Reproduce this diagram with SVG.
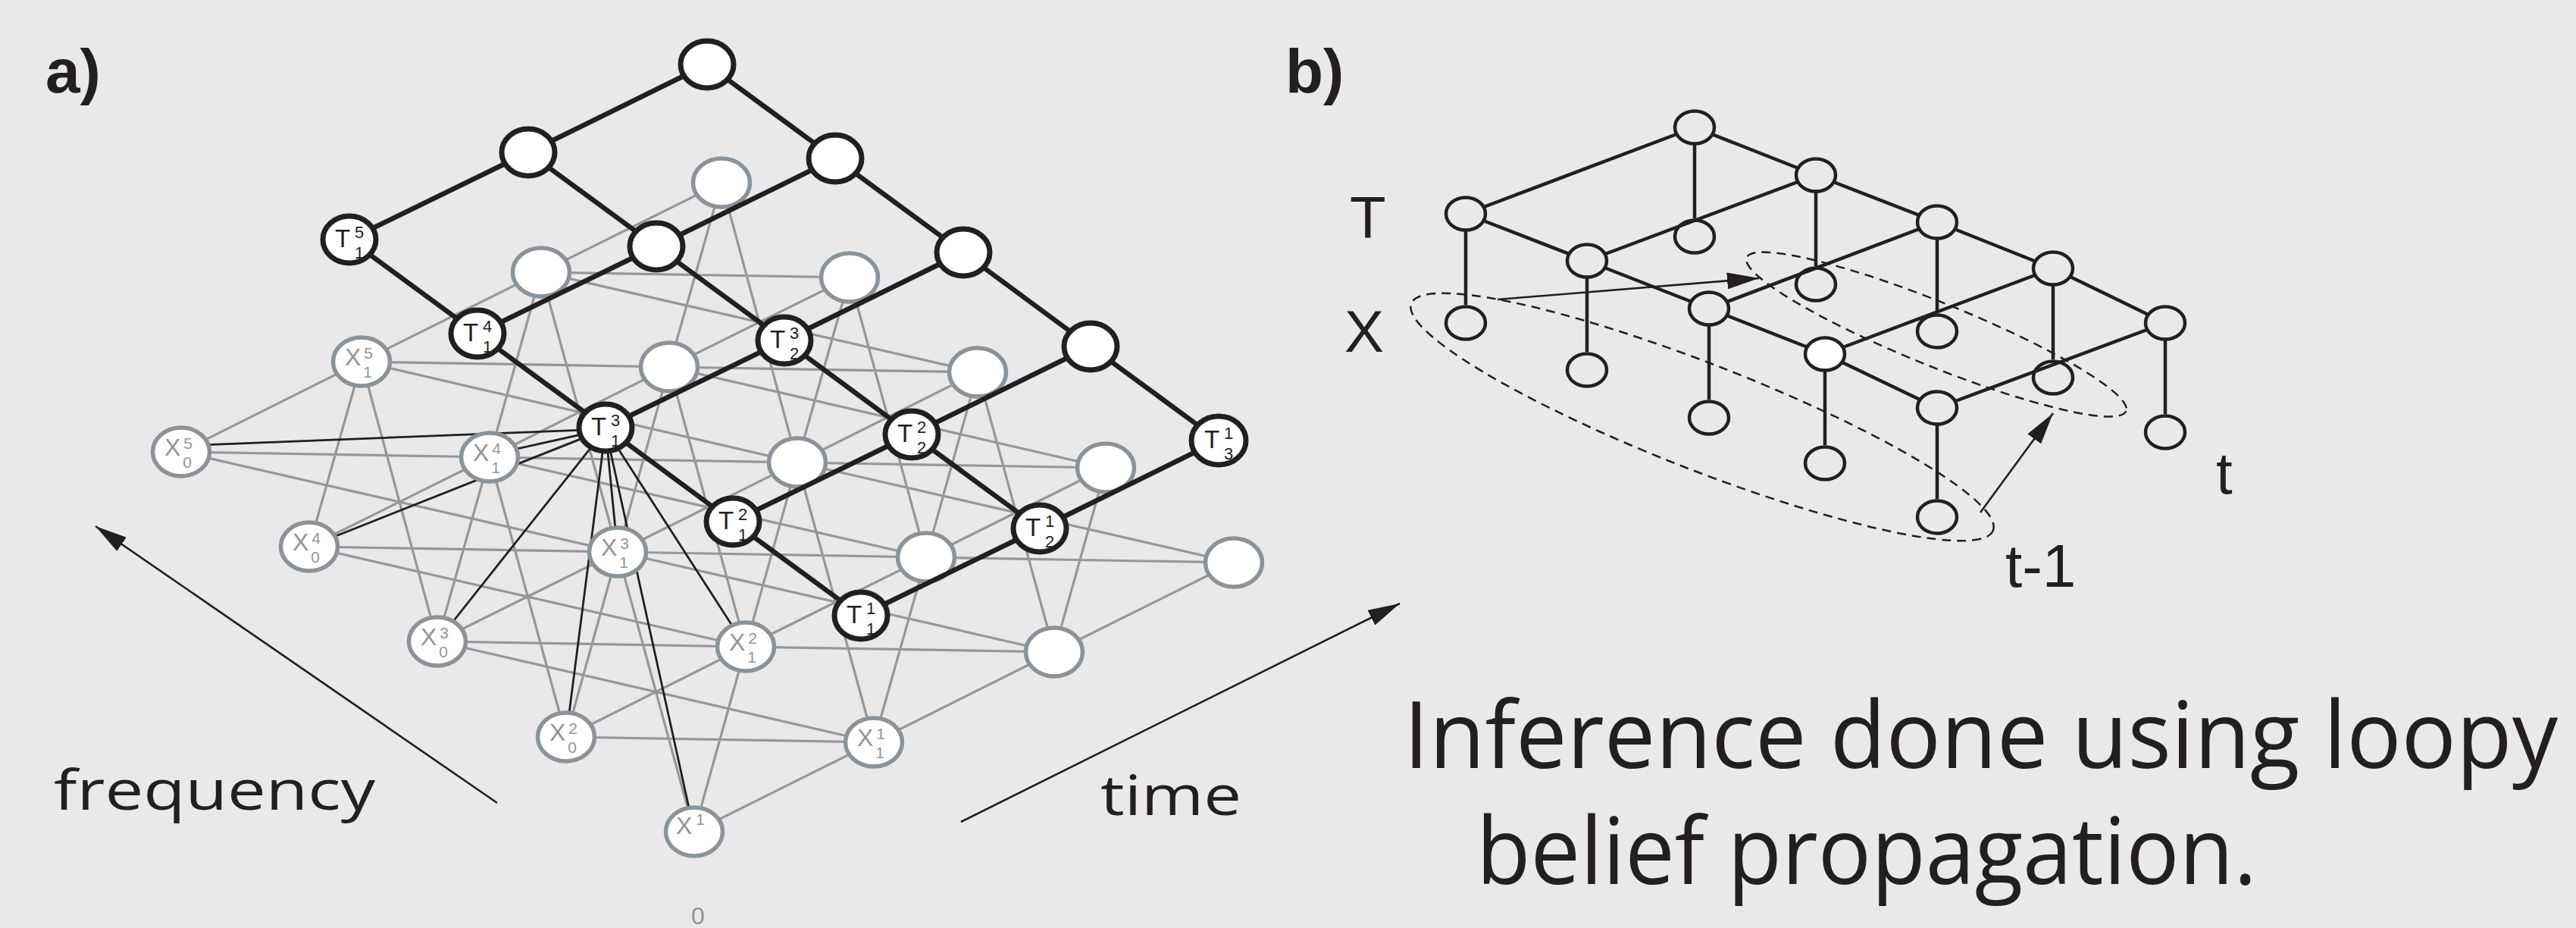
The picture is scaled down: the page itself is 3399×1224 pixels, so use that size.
<svg xmlns="http://www.w3.org/2000/svg" width="3399" height="1224" viewBox="0 0 3399 1224">
<style>
.bg{fill:#e9e9eb}
.tn{fill:#fff;stroke:#231f20;stroke-width:7}
.xn{fill:#fff;stroke:#8a9399;stroke-width:5.5}
.gl{fill:none;stroke:#959799;stroke-width:3.2}
.bl{fill:none;stroke:#231f20;stroke-width:2.8}
.te{fill:none;stroke:#231f20;stroke-width:6.5}
.f{font-family:"Open Sans","Liberation Sans",sans-serif}
.n{font-family:"Liberation Sans",Arial,sans-serif}
.tl{font-size:33px;fill:#231f20}
.td{font-size:22px;text-anchor:middle}
.xl{font-size:32px;fill:#939598}
.xd{font-size:21px;text-anchor:middle}
.bn{fill:#e9e9eb;stroke:#231f20;stroke-width:4.5}
.bx{fill:none;stroke:#231f20;stroke-width:4.5}
.be{fill:none;stroke:#231f20;stroke-width:4.5}
.dash{fill:none;stroke:#231f20;stroke-width:2.5;stroke-dasharray:12 8}
.ar{fill:none;stroke:#231f20;stroke-width:2.6}
.h{font-family:"Liberation Sans",Arial,sans-serif;fill:#231f20}
</style>
<defs>
<marker id="ah" viewBox="0 0 42 22" refX="42" refY="11" markerWidth="42" markerHeight="22" markerUnits="userSpaceOnUse" orient="auto"><path d="M0,0 L42,11 L0,22 z" fill="#231f20"/></marker>
</defs>
<rect class="bg" x="0" y="0" width="3399" height="1224"/>

<g id="labels-a">
<text class="h" x="60" y="122" font-size="82" font-weight="bold">a)</text>
<text class="f" x="71" y="1068" font-size="74" fill="#231f20" textLength="424" lengthAdjust="spacingAndGlyphs">frequency</text>
<text class="f" x="1452" y="1075" font-size="74" fill="#231f20" textLength="186" lengthAdjust="spacingAndGlyphs">time</text>
</g>

<g id="connectors-a">
<path class="gl" d="M952 241L714 359M952 241L883 484M952 241L1052 610M1121 366L714 359M1121 366L883 484M1121 366L1052 610M1121 366L1222 735M1290 491L714 359M1290 491L883 484M1290 491L1052 610M1290 491L1222 735M1290 491L1391 860M1459 617L883 484M1459 617L1052 610M1459 617L1222 735M1459 617L1391 860M1628 742L1052 610M1628 742L1222 735M1628 742L1391 860"/>
<path class="gl" d="M714 359L477 477M714 359L646 603M714 359L815 728M883 484L477 477M883 484L646 603M883 484L815 728M883 484L984 853M1052 610L477 477M1052 610L646 603M1052 610L815 728M1052 610L984 853M1052 610L1153 979M1222 735L646 603M1222 735L815 728M1222 735L984 853M1222 735L1153 979M1391 860L815 728M1391 860L984 853M1391 860L1153 979"/>
<path class="gl" d="M477 477L239 596M477 477L408 721M477 477L577 846M646 603L239 596M646 603L408 721M646 603L577 846M646 603L747 972M815 728L239 596M815 728L408 721M815 728L577 846M815 728L747 972M815 728L916 1097M984 853L408 721M984 853L577 846M984 853L747 972M984 853L916 1097M1153 979L577 846M1153 979L747 972M1153 979L916 1097"/>
<path class="bl" d="M799 566L239 588M799 566L646 600M799 566L408 721M799 566L577 846M799 566L815 728M799 566L747 972M799 566L984 853M799 566L916 1097"/>
<path class="ar" d="M656 1059L126 694" marker-end="url(#ah)"/>
<path class="ar" d="M1268 1084L1847 796" marker-end="url(#ah)"/>
</g>

<g id="x-nodes">
<g id="x30a"><ellipse class="xn" cx="952" cy="241" rx="37.5" ry="32"/></g>
<g id="x31a"><ellipse class="xn" cx="1121" cy="366" rx="37.5" ry="32"/></g>
<g id="x32a"><ellipse class="xn" cx="1290" cy="491" rx="37.5" ry="32"/></g>
<g id="x33a"><ellipse class="xn" cx="1459" cy="617" rx="37.5" ry="32"/></g>
<g id="x34a"><ellipse class="xn" cx="1628" cy="742" rx="37.5" ry="32"/></g>
<g id="x20a"><ellipse class="xn" cx="714" cy="359" rx="37.5" ry="32"/></g>
<g id="x21a"><ellipse class="xn" cx="883" cy="484" rx="37.5" ry="32"/></g>
<g id="x22a"><ellipse class="xn" cx="1052" cy="610" rx="37.5" ry="32"/></g>
<g id="x23a"><ellipse class="xn" cx="1222" cy="735" rx="37.5" ry="32"/></g>
<g id="x24a"><ellipse class="xn" cx="1391" cy="860" rx="37.5" ry="32"/></g>
<g id="X5_1"><ellipse class="xn" cx="477" cy="477" rx="37.5" ry="32"/><text class="n xl" x="455" y="482">X<tspan class="xd" x="486" y="473">5</tspan><tspan class="xd" x="485" y="498">1</tspan></text></g>
<g id="X4_1"><ellipse class="xn" cx="646" cy="603" rx="37.5" ry="32"/><text class="n xl" x="624" y="608">X<tspan class="xd" x="655" y="599">4</tspan><tspan class="xd" x="654" y="624">1</tspan></text></g>
<g id="X3_1"><ellipse class="xn" cx="815" cy="728" rx="37.5" ry="32"/><text class="n xl" x="793" y="733">X<tspan class="xd" x="824" y="724">3</tspan><tspan class="xd" x="823" y="749">1</tspan></text></g>
<g id="X2_1"><ellipse class="xn" cx="984" cy="853" rx="37.5" ry="32"/><text class="n xl" x="962" y="858">X<tspan class="xd" x="993" y="849">2</tspan><tspan class="xd" x="992" y="874">1</tspan></text></g>
<g id="X1_1"><ellipse class="xn" cx="1153" cy="979" rx="37.5" ry="32"/><text class="n xl" x="1131" y="984">X<tspan class="xd" x="1162" y="975">1</tspan><tspan class="xd" x="1161" y="1000">1</tspan></text></g>
<g id="X5_0"><ellipse class="xn" cx="239" cy="596" rx="37.5" ry="32"/><text class="n xl" x="217" y="601">X<tspan class="xd" x="248" y="592">5</tspan><tspan class="xd" x="247" y="617">0</tspan></text></g>
<g id="X4_0"><ellipse class="xn" cx="408" cy="721" rx="37.5" ry="32"/><text class="n xl" x="386" y="726">X<tspan class="xd" x="417" y="717">4</tspan><tspan class="xd" x="416" y="742">0</tspan></text></g>
<g id="X3_0"><ellipse class="xn" cx="577" cy="846" rx="37.5" ry="32"/><text class="n xl" x="555" y="851">X<tspan class="xd" x="586" y="842">3</tspan><tspan class="xd" x="585" y="867">0</tspan></text></g>
<g id="X2_0"><ellipse class="xn" cx="747" cy="972" rx="37.5" ry="32"/><text class="n xl" x="725" y="977">X<tspan class="xd" x="756" y="968">2</tspan><tspan class="xd" x="755" y="993">0</tspan></text></g>
<g id="X1_0"><ellipse class="xn" cx="916" cy="1097" rx="37.5" ry="32"/><text class="n xl" x="892" y="1100">X<tspan class="xd" x="924" y="1088">1</tspan></text><text class="n xl" x="921" y="1219" font-size="19" text-anchor="middle">0</text></g>
</g>

<g id="connectors-t">
<path class="te" d="M933 85L1102 209L1271 333L1439 457L1608 581M697 201L866 325L1035 449L1203 573L1372 697M461 316L630 440L799 564L967 688L1136 812M933 85L697 201L461 316M1102 209L866 325L630 440M1271 333L1035 449L799 564M1439 457L1203 573L967 688M1608 581L1372 697L1136 812"/>
</g>

<g id="t-nodes">
<g id="t00"><ellipse class="tn" cx="933" cy="85" rx="35" ry="31"/></g>
<g id="t10"><ellipse class="tn" cx="1102" cy="209" rx="35" ry="31"/></g>
<g id="t20"><ellipse class="tn" cx="1271" cy="333" rx="35" ry="31"/></g>
<g id="t30"><ellipse class="tn" cx="1439" cy="457" rx="35" ry="31"/></g>
<g id="t01"><ellipse class="tn" cx="697" cy="201" rx="35" ry="31"/></g>
<g id="t11"><ellipse class="tn" cx="866" cy="325" rx="35" ry="31"/></g>
<g id="T1_3"><ellipse class="tn" cx="1608" cy="581" rx="36" ry="32" stroke-width="4.8"/><text class="n tl" x="1589" y="591">T<tspan class="td" x="1621" y="579">1</tspan><tspan class="td" x="1621" y="606">3</tspan></text></g>
<g id="T3_2"><ellipse class="tn" cx="1035" cy="449" rx="35" ry="31"/><text class="n tl" x="1016" y="459">T<tspan class="td" x="1048" y="447">3</tspan><tspan class="td" x="1048" y="474">2</tspan></text></g>
<g id="T2_2"><ellipse class="tn" cx="1203" cy="573" rx="35" ry="31"/><text class="n tl" x="1184" y="583">T<tspan class="td" x="1216" y="571">2</tspan><tspan class="td" x="1216" y="598">2</tspan></text></g>
<g id="T1_2"><ellipse class="tn" cx="1372" cy="697" rx="35" ry="31"/><text class="n tl" x="1353" y="707">T<tspan class="td" x="1385" y="695">1</tspan><tspan class="td" x="1385" y="722">2</tspan></text></g>
<g id="T5_1"><ellipse class="tn" cx="461" cy="316" rx="35" ry="31"/><text class="n tl" x="442" y="326">T<tspan class="td" x="474" y="314">5</tspan><tspan class="td" x="474" y="341">1</tspan></text></g>
<g id="T4_1"><ellipse class="tn" cx="630" cy="440" rx="35" ry="31"/><text class="n tl" x="611" y="450">T<tspan class="td" x="643" y="438">4</tspan><tspan class="td" x="643" y="465">1</tspan></text></g>
<g id="T3_1"><ellipse class="tn" cx="799" cy="564" rx="35" ry="31"/><text class="n tl" x="780" y="574">T<tspan class="td" x="812" y="562">3</tspan><tspan class="td" x="812" y="589">1</tspan></text></g>
<g id="T2_1"><ellipse class="tn" cx="967" cy="688" rx="35" ry="31"/><text class="n tl" x="948" y="698">T<tspan class="td" x="980" y="686">2</tspan><tspan class="td" x="980" y="713">1</tspan></text></g>
<g id="T1_1"><ellipse class="tn" cx="1136" cy="812" rx="35" ry="31"/><text class="n tl" x="1117" y="822">T<tspan class="td" x="1149" y="810">1</tspan><tspan class="td" x="1149" y="837">1</tspan></text></g>
</g>

<g id="labels-b">
<text class="h" x="1696" y="122" font-size="82" font-weight="bold">b)</text>
<text class="h" x="1781" y="314" font-size="78">T</text>
<text class="h" x="1774" y="464" font-size="78">X</text>
<text class="h" x="2924" y="651" font-size="78">t</text>
<text class="h" x="2646" y="774" font-size="80">t-1</text>
</g>

<g id="connectors-b">
<path class="be" d="M1934 282L2094 344L2255 407L2408 467L2556 538M2236 168L2396 231L2556 293L2709 354L2857 426M1934 282L2236 168M2094 344L2396 231M2255 407L2556 293M2408 467L2709 354M2556 538L2857 426"/>
<path class="be" d="M1934 282V402M2094 344V464M2255 407V527M2408 467V587M2556 538V658M2236 168V288M2396 231V351M2556 293V413M2709 354V474M2857 426V546"/>
<ellipse class="dash" cx="0" cy="0" rx="412" ry="70" transform="translate(2246 550) rotate(21.3)"/>
<ellipse class="dash" cx="0" cy="0" rx="270" ry="42" transform="translate(2555 441) rotate(22)"/>
<path class="ar" d="M1976 395L2321 367" marker-end="url(#ah)"/>
<path class="ar" d="M2613 676L2709 545" marker-end="url(#ah)"/>
</g>

<g id="nodes-b">
<g id="bT0"><ellipse class="bn" cx="1934" cy="282" rx="26" ry="21.5"/></g>
<g id="bT1"><ellipse class="bn" cx="2094" cy="344" rx="26" ry="21.5"/></g>
<g id="bT2"><ellipse class="bn" cx="2255" cy="407" rx="26" ry="21.5"/></g>
<g id="bT3"><ellipse class="bn" cx="2408" cy="467" rx="26" ry="21.5" style="fill:#fff"/></g>
<g id="bT4"><ellipse class="bn" cx="2556" cy="538" rx="26" ry="21.5"/></g>
<g id="bK0"><ellipse class="bn" cx="2236" cy="168" rx="26" ry="21.5"/></g>
<g id="bK1"><ellipse class="bn" cx="2396" cy="231" rx="26" ry="21.5"/></g>
<g id="bK2"><ellipse class="bn" cx="2556" cy="293" rx="26" ry="21.5"/></g>
<g id="bK3"><ellipse class="bn" cx="2709" cy="354" rx="26" ry="21.5"/></g>
<g id="bK4"><ellipse class="bn" cx="2857" cy="426" rx="26" ry="21.5"/></g>
<g id="bX0"><ellipse class="bx" cx="1934" cy="426" rx="26" ry="21.5"/></g>
<g id="bX1"><ellipse class="bx" cx="2094" cy="488" rx="26" ry="21.5"/></g>
<g id="bX2"><ellipse class="bx" cx="2255" cy="551" rx="26" ry="21.5"/></g>
<g id="bX3"><ellipse class="bx" cx="2408" cy="611" rx="26" ry="21.5"/></g>
<g id="bX4"><ellipse class="bx" cx="2556" cy="682" rx="26" ry="21.5"/></g>
<g id="bY0"><ellipse class="bx" cx="2236" cy="312" rx="26" ry="21.5"/></g>
<g id="bY1"><ellipse class="bx" cx="2396" cy="375" rx="26" ry="21.5"/></g>
<g id="bY2"><ellipse class="bx" cx="2556" cy="437" rx="26" ry="21.5"/></g>
<g id="bY3"><ellipse class="bx" cx="2709" cy="498" rx="26" ry="21.5"/></g>
<g id="bY4"><ellipse class="bx" cx="2857" cy="570" rx="26" ry="21.5"/></g>
</g>

<g id="caption">
<text class="f" x="1852" y="1013" font-size="122" fill="#231f20" textLength="1523" lengthAdjust="spacingAndGlyphs">Inference done using loopy</text>
<text class="f" x="1948" y="1166" font-size="122" fill="#231f20" textLength="1030" lengthAdjust="spacingAndGlyphs">belief propagation.</text>
</g>
</svg>
